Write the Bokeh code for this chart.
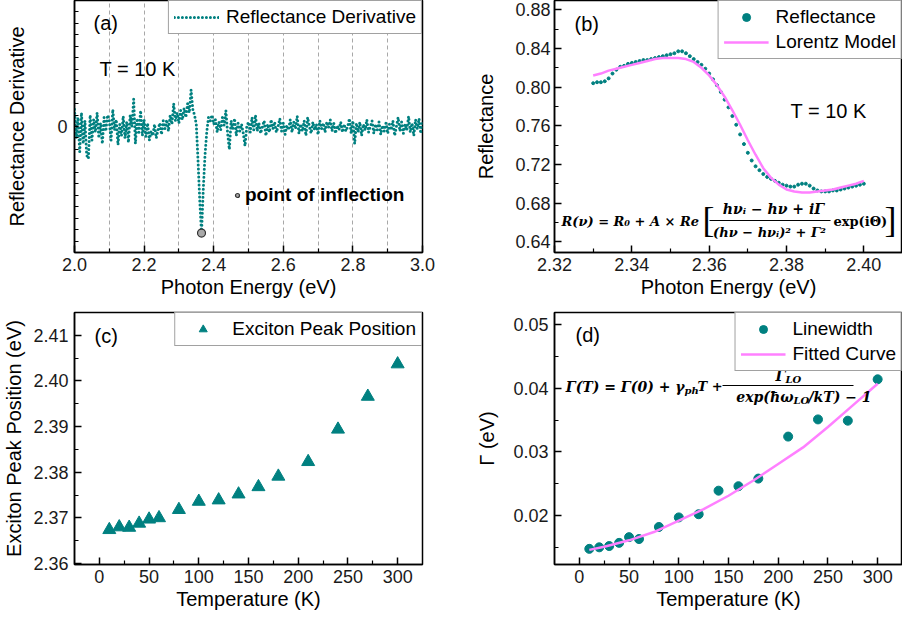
import numpy as np
from bokeh.plotting import figure
from bokeh.layouts import column, row
from bokeh.models import (FixedTicker, PrintfTickFormatter, Legend, LegendItem,
                          Label, BoxAnnotation)
from bokeh.embed import file_html
from bokeh.resources import INLINE

# ---------------- data ----------------
# (a) reflectance derivative (arb. units), sampled every 5 meV from 2.000 eV
deriv_values = [
    0.15, -0.10, 0.08, -0.22, 0.12, -0.15, 0.05, -0.25, -0.28, 0.10,
    -0.12, 0.06, -0.05, 0.12, -0.10, 0.03, -0.15, 0.08, -0.04, 0.10,
    0.05, -0.12, 0.15, -0.03, 0.06, -0.16, 0.02, -0.08, 0.09, -0.10,
    0.04, -0.14, 0.10, 0.00, 0.24, -0.15, 0.07, -0.05, 0.14, -0.08,
    0.06, -0.09, 0.03, -0.12, -0.04, -0.08, 0.02, -0.10, -0.03, 0.03,
    -0.07, 0.05, -0.02, 0.06, -0.04, 0.10, 0.02, 0.20, 0.05, 0.12,
    0.03, 0.14, 0.06, 0.16, 0.08, 0.20, 0.12, 0.32, 0.15, 0.10,
    0.02, -0.30, -0.65, -0.93, -0.55, -0.25, -0.05, 0.08, 0.05, 0.10,
    0.02, 0.06, -0.05, 0.04, -0.03, 0.08, 0.01, 0.14, -0.06, -0.20,
    0.05, -0.02, 0.07, -0.08, 0.03, -0.04, 0.02, -0.06, -0.17, 0.00,
    0.04, -0.05, 0.08, -0.03, 0.10, -0.04, 0.03, -0.06, 0.00, 0.05,
    -0.08, 0.02, -0.05, 0.06, -0.02, 0.04, -0.05, 0.00, 0.07, -0.04,
    0.03, -0.07, 0.01, -0.03, 0.06, -0.05, 0.04, -0.02, 0.09, -0.06,
    0.02, -0.04, 0.05, -0.08, 0.08, 0.00, -0.06, 0.04, -0.03, 0.02,
    -0.07, 0.05, -0.02, 0.03, -0.05, 0.04, -0.01, 0.06, -0.04, 0.03,
    -0.06, 0.01, -0.03, 0.04, -0.05, 0.02, -0.04, 0.00, 0.07, -0.06,
    0.05, -0.15, 0.03, -0.05, 0.04, -0.08, 0.02, -0.03, 0.06, -0.05,
    0.00, 0.05, -0.06, 0.02, -0.03, 0.04, -0.07, 0.01, -0.04, 0.03,
    -0.06, 0.02, -0.03, 0.05, -0.08, 0.00, 0.08, -0.04, 0.04, -0.06,
    0.02, -0.03, 0.09, -0.05, 0.03, -0.08, 0.06, -0.02, 0.07, -0.06,
    0.04,
]
deriv_energy = np.round(2.0 + 0.005 * np.arange(len(deriv_values)), 3)
inflection_energy = [2.365]
inflection_value = [-0.93]

# (b) reflectance, 1 meV steps from 2.330 eV
refl_values = [
    0.804, 0.805, 0.805, 0.806, 0.809, 0.814, 0.818, 0.821, 0.822, 0.824,
    0.825, 0.826, 0.827, 0.828, 0.828, 0.829, 0.830, 0.831, 0.832, 0.833,
    0.834, 0.835, 0.837, 0.837, 0.835, 0.832, 0.829, 0.826, 0.823, 0.819,
    0.814, 0.808, 0.802, 0.795, 0.787, 0.779, 0.770, 0.761, 0.751, 0.741,
    0.732, 0.724, 0.718, 0.714, 0.710, 0.707, 0.705, 0.703, 0.701, 0.699,
    0.698, 0.697, 0.697, 0.699, 0.700, 0.700, 0.698, 0.695, 0.693, 0.692,
    0.692, 0.692, 0.693, 0.693, 0.694, 0.695, 0.696, 0.697, 0.698, 0.699,
    0.700,
]
refl_energy = np.round(2.330 + 0.001 * np.arange(len(refl_values)), 3)
lorentz_energy = [2.330, 2.332, 2.334, 2.336, 2.338, 2.340, 2.342, 2.344, 2.346,
                  2.348, 2.350, 2.352, 2.354, 2.356, 2.358, 2.360, 2.362, 2.364,
                  2.366, 2.368, 2.370, 2.372, 2.374, 2.376, 2.378, 2.380, 2.382,
                  2.384, 2.386, 2.388, 2.390, 2.392, 2.394, 2.396, 2.398, 2.400]
lorentz_values = [0.812, 0.814, 0.817, 0.819, 0.821, 0.823, 0.825, 0.827, 0.829,
                  0.830, 0.830, 0.830, 0.829, 0.826, 0.820, 0.812, 0.802, 0.790,
                  0.776, 0.761, 0.745, 0.730, 0.716, 0.706, 0.699, 0.694, 0.692,
                  0.691, 0.691, 0.692, 0.693, 0.694, 0.696, 0.698, 0.700, 0.703]

# (c), (d) temperature series
temperature = [10, 20, 30, 40, 50, 60, 80, 100, 120, 140, 160, 180, 210, 240, 270, 300]
peak_position = [2.3674, 2.3680, 2.3679, 2.3688, 2.3697, 2.3700, 2.3718, 2.3736,
                 2.3739, 2.3752, 2.3768, 2.3791, 2.3823, 2.3894, 2.3966, 2.4037]
linewidth = [0.01476, 0.0150, 0.0152, 0.0157, 0.0166, 0.0163, 0.0182, 0.0197,
             0.0202, 0.0239, 0.0246, 0.0258, 0.0324, 0.0351, 0.0349, 0.0414]
fit_temperature = [10, 25, 50, 75, 100, 125, 150, 175, 200, 225, 250, 275, 300]
fit_gamma = [0.0146, 0.0151, 0.0161, 0.0174, 0.0192, 0.0210, 0.0231, 0.0255,
             0.0281, 0.0307, 0.0339, 0.0373, 0.0407]

# ---------------- style ----------------
FONT = "Liberation Sans"
SERIF = "DejaVu Serif"
TEAL = "#008080"
PINK = "#ff80ff"
FW, FH = 348, 252


def make_fig(xr, yr, left, right, top, bottom):
    p = figure(frame_width=FW, frame_height=FH, x_range=xr, y_range=yr,
               min_border_left=left, min_border_right=right,
               min_border_top=top, min_border_bottom=bottom,
               output_backend="svg", toolbar_location=None,
               background_fill_color="white", border_fill_color="white",
               outline_line_color="black", outline_line_width=1.5)
    p.grid.visible = False
    for ax in (p.xaxis[0], p.yaxis[0]):
        ax.axis_line_color = "black"
        ax.axis_line_width = 1.5
        ax.major_tick_in = 7
        ax.major_tick_out = 0
        ax.minor_tick_in = 4
        ax.minor_tick_out = 0
        ax.major_tick_line_color = "black"
        ax.minor_tick_line_color = "black"
        ax.major_tick_line_width = 1.5
        ax.minor_tick_line_width = 1.2
        ax.major_label_text_font = FONT
        ax.major_label_text_font_size = "18px"
        ax.major_label_text_color = "#1a1a1a"
        ax.axis_label_text_font = FONT
        ax.axis_label_text_font_size = "20px"
        ax.axis_label_text_font_style = "normal"
        ax.axis_label_text_color = "black"
    p.xaxis.major_label_standoff = 5
    p.xaxis.axis_label_standoff = 2
    return p


def px(frame, xr, yr, x_px, y_px):
    fl, ft = frame
    x = xr[0] + (x_px - fl) / FW * (xr[1] - xr[0])
    y = yr[1] - (y_px - ft) / FH * (yr[1] - yr[0])
    return x, y


def add_text(p, frame, xr, yr, x_px, y_px, text, size="19px", font=FONT,
             style="normal", align="left"):
    x, y = px(frame, xr, yr, x_px, y_px)
    p.add_layout(Label(x=x, y=y, text=text, text_font=font, text_font_size=size,
                       text_font_style=style, text_align=align,
                       text_baseline="middle", text_color="black"))


def add_bar(p, frame, xr, yr, x0, x1, y_px):
    l, t = px(frame, xr, yr, x0, y_px - 0.6)
    r, b = px(frame, xr, yr, x1, y_px + 0.6)
    p.add_layout(BoxAnnotation(left=l, right=r, top=t, bottom=b,
                               fill_color="black", fill_alpha=1, line_color=None))


def legend(items, **kw):
    opts = dict(location="top_right", margin=0, padding=5, spacing=3,
                glyph_width=45, glyph_height=20, label_height=20, label_standoff=7,
                label_text_font=FONT, label_text_font_size="19px",
                label_text_color="black", border_line_color="#444444",
                border_line_width=1, background_fill_color="white",
                background_fill_alpha=1)
    opts.update(kw)
    return Legend(items=items, **opts)


# ---------------- (a) ----------------
XA, YA, FA = (2.0, 3.0), (-1.1, 1.1), (74, 0)
pa = make_fig(XA, YA, 74, 29, 0, 58)
pa.xaxis.ticker = FixedTicker(ticks=[2.0, 2.2, 2.4, 2.6, 2.8, 3.0],
                              minor_ticks=[2.1, 2.3, 2.5, 2.7, 2.9])
pa.xaxis.formatter = PrintfTickFormatter(format="%.1f")
pa.yaxis.ticker = FixedTicker(ticks=[0],
                              minor_ticks=[round(0.1 * k, 1) for k in range(-10, 11) if k != 0])
pa.yaxis.major_tick_in = 4
pa.yaxis.major_label_standoff = 7
pa.yaxis.axis_label_standoff = 26
pa.xaxis.axis_label = "Photon Energy (eV)"
pa.yaxis.axis_label = "Reflectance Derivative"
pa.xgrid.visible = True
pa.xgrid.ticker = FixedTicker(ticks=[2.1, 2.2, 2.3, 2.4, 2.5, 2.6, 2.7, 2.8, 2.9])
pa.xgrid.grid_line_color = "#a8a8a8"
pa.xgrid.grid_line_dash = "4 3"
pa.xgrid.grid_line_width = 1

ra = pa.line(deriv_energy, deriv_values, line_color=TEAL, line_width=3,
             line_dash="0 4", line_cap="round")
ri = pa.scatter(inflection_energy, inflection_value, size=8, marker="circle",
                fill_color="#a9a9a9", line_color="#333333", line_width=1.2)
pa.add_layout(legend([LegendItem(label="Reflectance Derivative", renderers=[ra])]))
pa.add_layout(Legend(items=[LegendItem(label="point of inflection", renderers=[ri])],
                     location=(158, 46), margin=0, padding=0, glyph_width=10,
                     glyph_height=20, label_height=20, label_standoff=3,
                     label_text_font=FONT, label_text_font_size="19px",
                     label_text_font_style="bold", label_text_color="black",
                     border_line_color=None, background_fill_alpha=0))
add_text(pa, FA, XA, YA, 93, 22, "(a)", size="20px")
add_text(pa, FA, XA, YA, 99, 68, "T = 10 K", size="20px")

# ---------------- (b) ----------------
XB, YB, FB = (2.32, 2.41), (0.6288, 0.8896), (554, 0)
pb = make_fig(XB, YB, 103, 0, 0, 58)
pb.xaxis.ticker = FixedTicker(ticks=[2.32, 2.34, 2.36, 2.38, 2.40],
                              minor_ticks=[2.33, 2.35, 2.37, 2.39])
pb.xaxis.formatter = PrintfTickFormatter(format="%.2f")
pb.yaxis.ticker = FixedTicker(ticks=[0.64, 0.68, 0.72, 0.76, 0.80, 0.84, 0.88],
                              minor_ticks=[0.66, 0.70, 0.74, 0.78, 0.82, 0.86])
pb.yaxis.formatter = PrintfTickFormatter(format="%.2f")
pb.yaxis.major_label_standoff = 4
pb.yaxis.axis_label_standoff = 15
pb.xaxis.axis_label = "Photon Energy (eV)"
pb.yaxis.axis_label = "Reflectance"

rb1 = pb.scatter(refl_energy, refl_values, size=3, marker="circle",
                 fill_color=TEAL, line_color=TEAL)
rb2 = pb.line(lorentz_energy, lorentz_values, line_color=PINK, line_width=2.5)
pb.add_layout(legend([LegendItem(label="Reflectance", renderers=[rb1]),
                      LegendItem(label="Lorentz Model", renderers=[rb2])]))
add_text(pb, FB, XB, YB, 574, 23, "(b)", size="20px")
add_text(pb, FB, XB, YB, 790, 110, "T = 10 K", size="20px")
# equation
add_text(pb, FB, XB, YB, 561, 221, "R(ν) = R₀ + A × Re", size="13px", font=SERIF,
         style="bold italic")
add_text(pb, FB, XB, YB, 702, 219, "[", size="36px", font="Liberation Serif")
add_text(pb, FB, XB, YB, 773, 208, "hνᵢ − hν + iΓ", size="14px", font=SERIF,
         style="bold italic", align="center")
add_bar(pb, FB, XB, YB, 709, 830, 220)
add_text(pb, FB, XB, YB, 769, 232, "(hν − hνᵢ)² + Γ²", size="13px", font=SERIF,
         style="bold italic", align="center")
add_text(pb, FB, XB, YB, 833, 221, "exp(iΘ)", size="13px", font=SERIF, style="bold")
add_text(pb, FB, XB, YB, 884, 219, "]", size="36px", font="Liberation Serif")

# ---------------- (c) ----------------
XC, YC, FC = (-25, 325), (2.3598, 2.415), (74, 312)
pc = make_fig(XC, YC, 74, 29, 2, 55)
pc.xaxis.ticker = FixedTicker(ticks=[0, 50, 100, 150, 200, 250, 300],
                              minor_ticks=[25, 75, 125, 175, 225, 275])
pc.yaxis.ticker = FixedTicker(ticks=[2.36, 2.37, 2.38, 2.39, 2.40, 2.41],
                              minor_ticks=[2.365, 2.375, 2.385, 2.395, 2.405])
pc.yaxis.formatter = PrintfTickFormatter(format="%.2f")
pc.yaxis.major_label_standoff = 6
pc.yaxis.axis_label_standoff = 5
pc.xaxis.axis_label = "Temperature (K)"
pc.yaxis.axis_label = "Exciton Peak Position (eV)"
rc = pc.scatter(temperature, peak_position, size=13, marker="triangle",
                fill_color=TEAL, line_color=TEAL)
pc.add_layout(legend([LegendItem(label="Exciton Peak Position", renderers=[rc])]))
add_text(pc, FC, XC, YC, 94, 335, "(c)", size="20px")

# ---------------- (d) ----------------
XD, YD, FD = (-25, 325), (0.0123, 0.0519), (554, 312)
pd_ = make_fig(XD, YD, 103, 0, 2, 55)
pd_.xaxis.ticker = FixedTicker(ticks=[0, 50, 100, 150, 200, 250, 300],
                               minor_ticks=[25, 75, 125, 175, 225, 275])
pd_.yaxis.ticker = FixedTicker(ticks=[0.02, 0.03, 0.04, 0.05],
                               minor_ticks=[0.015, 0.025, 0.035, 0.045])
pd_.yaxis.formatter = PrintfTickFormatter(format="%.2f")
pd_.yaxis.major_label_standoff = 6
pd_.yaxis.axis_label_standoff = 12
pd_.xaxis.axis_label = "Temperature (K)"
pd_.yaxis.axis_label = "Γ (eV)"
rd1 = pd_.scatter(temperature, linewidth, size=9, marker="circle",
                  fill_color=TEAL, line_color=TEAL)
rd2 = pd_.line(fit_temperature, fit_gamma, line_color=PINK, line_width=2.5)
pd_.add_layout(legend([LegendItem(label="Linewidth", renderers=[rd1]),
                       LegendItem(label="Fitted Curve", renderers=[rd2])]))
add_text(pd_, FD, XD, YD, 575, 334, "(d)", size="20px")
# equation
add_text(pd_, FD, XD, YD, 684, 386, "Γ(T) = Γ(0) + γ", size="14px", font=SERIF,
         style="bold italic", align="right")
add_text(pd_, FD, XD, YD, 684, 390, "ph", size="10px", font=SERIF, style="bold italic")
add_text(pd_, FD, XD, YD, 697, 386, "T +", size="13px", font=SERIF, style="bold italic")
add_text(pd_, FD, XD, YD, 785, 375, "Γ", size="14px", font=SERIF, style="bold italic",
         align="right")
add_text(pd_, FD, XD, YD, 785, 379, "LO", size="10px", font=SERIF, style="bold italic")
add_bar(pd_, FD, XD, YD, 722, 853, 385)
add_text(pd_, FD, XD, YD, 793, 396, "exp(ħω", size="14px", font=SERIF,
         style="bold italic", align="right")
add_text(pd_, FD, XD, YD, 793, 400, "LO", size="10px", font=SERIF, style="bold italic")
add_text(pd_, FD, XD, YD, 808, 396, "/kT) − 1", size="14px", font=SERIF,
         style="bold italic")

layout = column(row(pa, pb), row(pc, pd_))
open("out.html", "w").write(file_html(layout, INLINE))
